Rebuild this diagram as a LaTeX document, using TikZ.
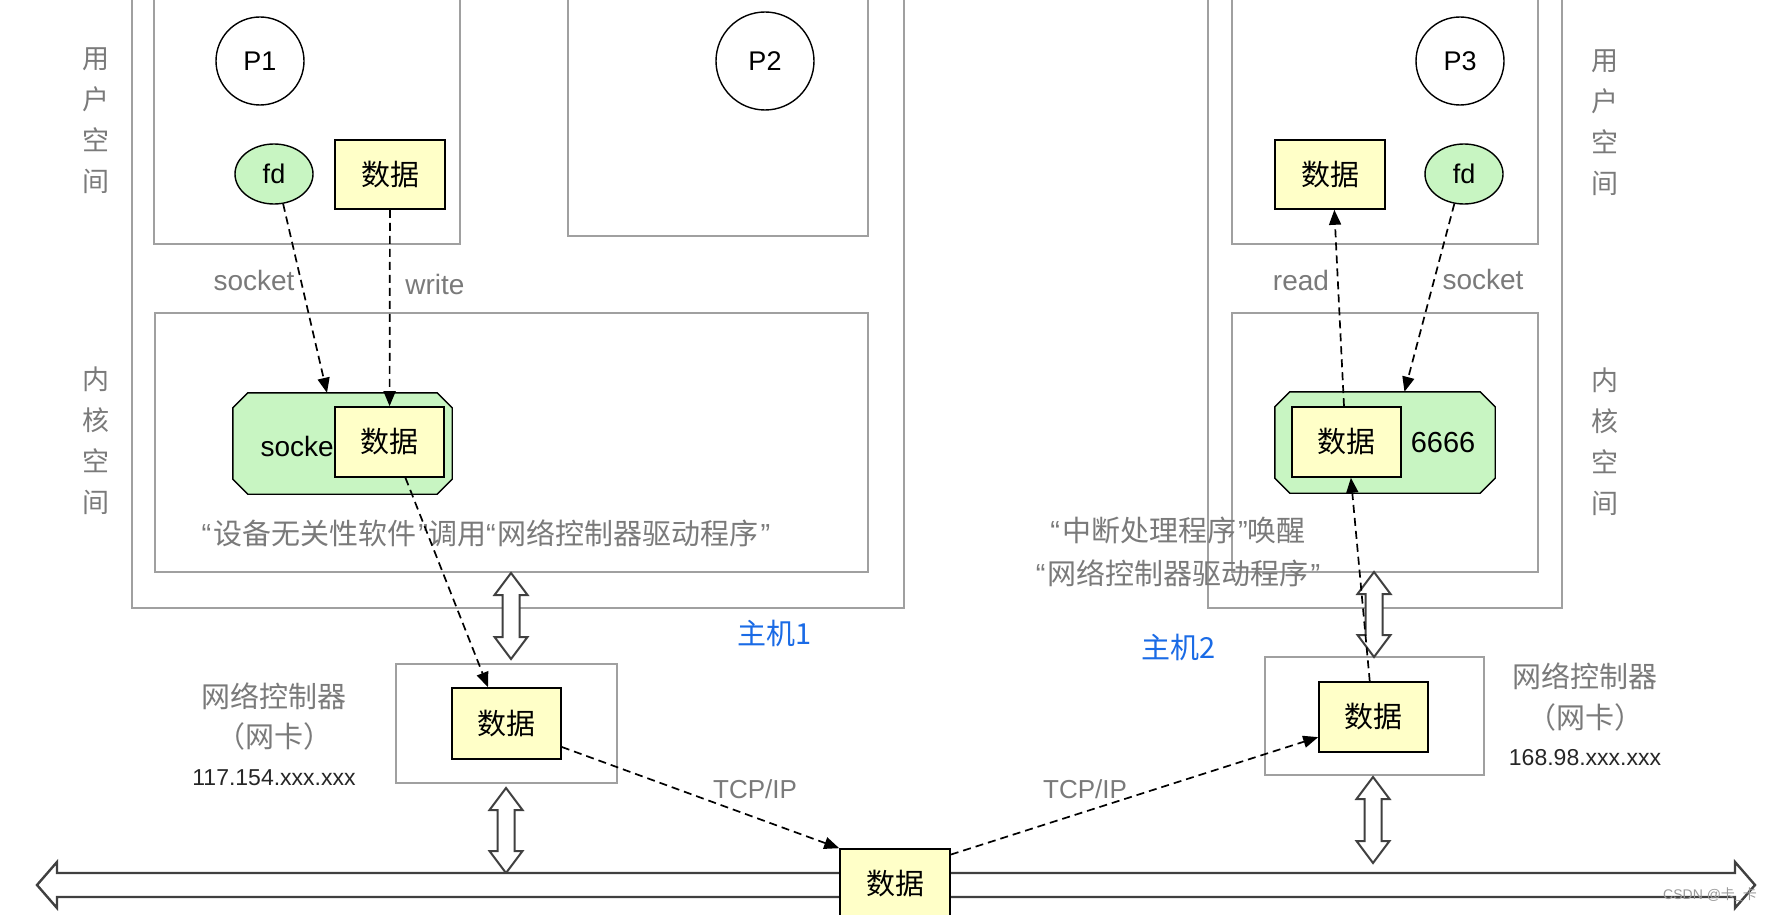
\documentclass[tikz,border=0pt]{standalone}
\usepackage{fontspec}
\setmainfont{Liberation Sans}
\newfontfamily\cjk{Noto Sans CJK SC}
\usetikzlibrary{arrows.meta,shapes.geometric,calc}
\definecolor{boxgray}{HTML}{A0A0A0}
\definecolor{txtgray}{HTML}{7A7A7A}
\definecolor{datayellow}{HTML}{FFFFC8}
\definecolor{sockgreen}{HTML}{C8F5C2}
\definecolor{hostblue}{HTML}{1A6BE6}
\definecolor{arrowgray}{HTML}{404040}
\tikzset{
  frame/.style={draw=boxgray, line width=2pt},
  databox/.style={draw=black, line width=1.6pt, fill=datayellow, minimum width=109pt, minimum height=70pt, inner sep=0pt, font=\cjk\fontsize{29}{34}\selectfont},
  proc/.style={circle, draw=black, line width=1.4pt, inner sep=0pt, font=\fontsize{27}{30}\selectfont},
  fdnode/.style={ellipse, draw=black, line width=1.4pt, fill=sockgreen, minimum width=78pt, minimum height=60pt, inner sep=0pt, font=\fontsize{27}{30}\selectfont},
  sockbox/.style={rectangle, minimum width=219pt, minimum height=101pt, inner sep=0pt},
  chamfer/.style={draw=black, line width=1.4pt, fill=sockgreen, line join=miter},
  lbl/.style={text=txtgray, font=\fontsize{28}{32}\selectfont},
  cjklbl/.style={text=txtgray, font=\cjk\fontsize{29}{42}\selectfont, align=center},
  vlbl/.style={text=txtgray, font=\cjk\fontsize{27}{41}\selectfont, align=center},
  iplbl/.style={text=black!85, font=\fontsize{23}{28}\selectfont},
  hostlbl/.style={text=hostblue, font=\cjk\fontsize{29}{34}\selectfont},
  flow/.style={dash pattern=on 8pt off 5pt, line width=1.7pt, -{Triangle[length=15pt,width=12pt]}},
  hollow/.style={draw=arrowgray, line width=2pt, fill=white, line join=miter},
}
\newcommand\vdarrow[3]{%
  \draw[hollow] (#1,#2) -- ++(16.5,22) -- ++(-8,0) -- (#1+8.5,#3-22) -- ++(8,0)
    -- (#1,#3) -- ++(-16.5,-22) -- ++(8,0) -- (#1-8.5,#2+22) -- ++(-8,0) -- cycle;}
\newcommand\chamferbox[1]{%
  \draw[chamfer] ($(#1.north west)+(15,0)$) -- ($(#1.north east)+(-15,0)$)
    -- ($(#1.north east)+(0,15)$) -- ($(#1.south east)+(0,-15)$)
    -- ($(#1.south east)+(-15,0)$) -- ($(#1.south west)+(15,0)$)
    -- ($(#1.south west)+(0,-15)$) -- ($(#1.north west)+(0,15)$) -- cycle;}
\newcommand\oq{{\rmfamily“}\hspace{2pt}}
\newcommand\cq{\hspace{2pt}{\rmfamily”}}
\begin{document}
\begin{tikzpicture}[x=1pt,y=-1pt]
\useasboundingbox (0,0) rectangle (1772,915);
\fill[white] (0,0) rectangle (1772,915);
\clip (0,0) rectangle (1772,915);

% ---------- host 1 frames ----------
\draw[frame] (132,-5) rectangle (904,608);
\draw[frame] (154,-5) rectangle (460,244);
\draw[frame] (568,-5) rectangle (868,236);
\draw[frame] (155,313) rectangle (868,572);
\draw[frame] (396,664) rectangle (617,783);

% ---------- host 2 frames ----------
\draw[frame] (1208,-5) rectangle (1562,608);
\draw[frame] (1232,-5) rectangle (1538,244);
\draw[frame] (1232,313) rectangle (1538,572);
\draw[frame] (1265,657) rectangle (1484,775);

% ---------- side labels ----------
\node[vlbl] (u1) at (96,121) {用\\户\\空\\间};
\node[vlbl] (k1) at (96,441) {内\\核\\空\\间};
\node[vlbl] (u2) at (1605,123) {用\\户\\空\\间};
\node[vlbl] (k2) at (1605,442) {内\\核\\空\\间};

% ---------- user space nodes ----------
\node[proc, minimum size=88pt] (p1) at (260,61) {P1};
\node[proc, minimum size=98pt] (p2) at (765,61) {P2};
\node[proc, minimum size=88pt] (p3) at (1460,61) {P3};
\node[fdnode] (fd1) at (274,174) {fd};
\node[fdnode] (fd2) at (1464,174) {fd};
\node[databox, minimum width=110pt, minimum height=69pt] (ud1) at (390,174.5) {数据};
\node[databox, minimum width=110pt, minimum height=69pt] (ud2) at (1330,174.5) {数据};

\node[lbl] (lsock1) at (254,280) {socket};
\node[lbl] (lwrite) at (435,284) {write};
\node[lbl] (lread) at (1301,280) {read};
\node[lbl] (lsock2) at (1483,279) {socket};

% ---------- kernel nodes ----------
\node[sockbox] (sock1) at (342.5,443.5) {};
\chamferbox{sock1}
\node[anchor=west, font=\fontsize{28}{32}\selectfont] (socktxt) at (257,446) {socket};
\node[databox] (sd1) at (389.5,442) {数据};

\node[sockbox, minimum width=220pt] (sock2) at (1385,442.5) {};
\chamferbox{sock2}
\node[databox] (sd2) at (1346.5,442) {数据};
\node[font=\fontsize{29}{34}\selectfont] (port) at (1443,443) {6666};

\node[cjklbl] (desc1) at (486,533) {\oq 设备无关性软件\cq 调用\oq 网络控制器驱动程序\cq};
\node[cjklbl, font=\cjk\fontsize{29}{43}\selectfont] (desc2) at (1178,551.5) {\oq 中断处理程序\cq 唤醒\\\oq 网络控制器驱动程序\cq};

% ---------- NIC ----------
\node[databox, minimum height=71pt] (nd1) at (506.5,723.5) {数据};
\node[databox] (nd2) at (1373.5,717) {数据};
\node[cjklbl, font=\cjk\fontsize{29}{40}\selectfont] (nic1) at (274,717) {网络控制器\\（网卡）};
\node[iplbl] (ip1) at (274,778) {117.154.xxx.xxx};
\node[cjklbl, font=\cjk\fontsize{29}{41}\selectfont] (nic2) at (1585,697.5) {网络控制器\\（网卡）};
\node[iplbl] (ip2) at (1585,758) {168.98.xxx.xxx};

\node[hostlbl] (h1) at (775,633) {主机1};
\node[hostlbl] (h2) at (1179,647) {主机2};

% ---------- hollow double arrows ----------
\vdarrow{511}{573}{659}
\vdarrow{506}{788}{873}
\vdarrow{1374}{572}{657}
\vdarrow{1373}{777}{863}

% bus
\draw[hollow, line width=2.4pt] (37,885) -- ++(20,-23) -- ++(0,11) -- (1735,873) -- ++(0,-11)
  -- (1755,885) -- ++(-20,23) -- ++(0,-11) -- (57,897) -- ++(0,11) -- cycle;
\node[databox, minimum width=110pt, minimum height=68pt] (bd) at (895,883) {数据};

\node[lbl, font=\fontsize{26}{30}\selectfont] (tcp1) at (755,789) {TCP/IP};
\node[lbl, font=\fontsize{26}{30}\selectfont] (tcp2) at (1085,789) {TCP/IP};

\node[text=black!40, font=\fontsize{14}{16}\selectfont] (wm) at (1710,895) {CSDN @{\cjk 卡\_卡}};

% ---------- dashed flows ----------
\draw[flow] (fd1.-73) -- (sock1.107);
\draw[flow] (ud1) -- (sd1);
\draw[flow] (sd1.-66) -- (nd1.117);
\draw[flow] (nd1.-23) -- (bd.north west);
\draw[flow] (bd.27) -- (nd2.200);
\draw[flow] (nd2.96) -- (sd2.-83);
\draw[flow] (sd2.94) -- (ud2.-83);
\draw[flow] (fd2.-108) -- (sock2.69);
\end{tikzpicture}
\end{document}
